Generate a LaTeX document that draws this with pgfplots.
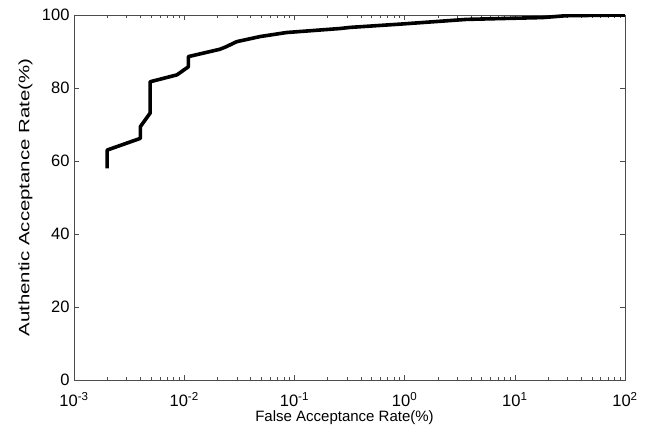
\documentclass[border=0pt]{standalone}
\usepackage{fontspec}
\setmainfont{Liberation Sans}
\usepackage{pgfplots}
\pgfplotsset{compat=1.18}

\begin{document}
\begin{tikzpicture}
\begin{axis}[
  name=ax,
  scale only axis,
  width=551pt,
  height=365pt,
  xmode=log,
  xmin=1e-3, xmax=1e2,
  ymin=0, ymax=100,
  ytick={0,20,40,60,80,100},
  xtick={1e-3,1e-2,1e-1,1,1e1,1e2},
  xticklabels={10\textsuperscript{-3},10\textsuperscript{-2},10\textsuperscript{-1},10\textsuperscript{0},10\textsuperscript{1},10\textsuperscript{2}},
  font=\fontsize{15}{18}\selectfont,
  tick label style={font=\fontsize{16.5}{19}\selectfont},
  /pgf/number format/assume math mode=true,
  axis line style={black!70},
  every tick/.style={black!70},
  major tick length=5pt,
  minor tick length=3pt,
  tick align=inside,
  xlabel={False Acceptance Rate(\%)},
  ylabel={Authentic Acceptance Rate(\%)},
  xlabel style={at={(axis description cs:0.491,-0.102)},anchor=center},
  ylabel style={at={(axis description cs:-0.088,0.5)},anchor=center,xscale=1.36},
  yticklabel style={xshift=-1pt},
  xticklabel style={yshift=-9pt},
]
\addplot[black, line width=3.6pt, line join=round] coordinates {
  (0.002,58) (0.002,63) (0.004,66.2) (0.004,69.4) (0.0049,73.1) (0.0049,81.7)
  (0.0086,83.6) (0.0109,85.8) (0.0109,88.6) (0.021,90.6) (0.024,91.3)
  (0.030,92.7) (0.049,94.1) (0.085,95.2) (0.26,96.3) (0.32,96.6)
  (0.91,97.5) (3.66,98.8) (18,99.3) (29,99.8) (100,100)
};
\end{axis}
\useasboundingbox ([shift={(-74pt,-46pt)}]ax.south west) rectangle ([shift={(24pt,15pt)}]ax.north east);
\end{tikzpicture}
\end{document}
